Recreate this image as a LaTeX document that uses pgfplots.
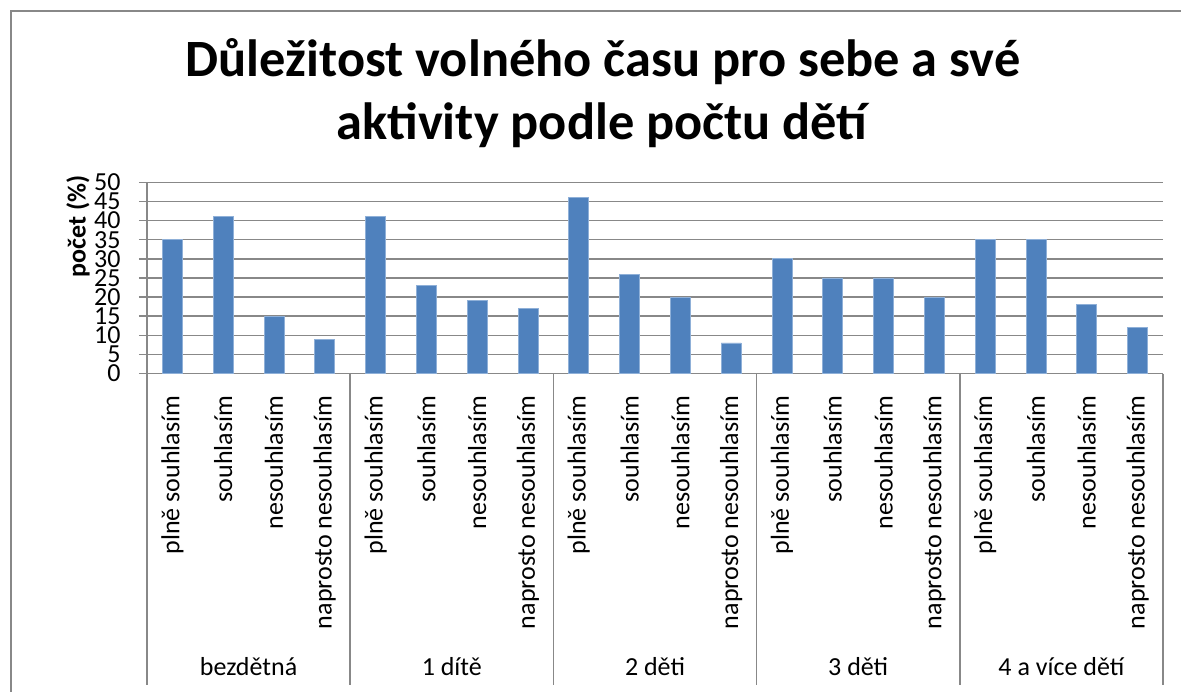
\documentclass[border=0pt]{standalone}
\usepackage{pgfplots}
\pgfplotsset{compat=1.18}
\usepackage{fontspec}
\setmainfont{Carlito}
\definecolor{barblue}{HTML}{4F81BD}
\definecolor{baredge}{HTML}{8FB0D8}
\definecolor{gridgray}{HTML}{888888}
\newcommand{\lblfont}{\fontsize{13}{15}\selectfont}
\begin{document}
\begin{tikzpicture}
\useasboundingbox (0pt,0pt) rectangle (590.5pt,345.5pt);
\draw[gridgray, line width=1pt] (5.5pt,-2pt) -- (5.5pt,340pt) -- (592pt,340pt);
\node[anchor=base, font=\fontsize{26.2}{31}\selectfont\bfseries] at (301.5pt,307pt) {Důležitost volného času pro sebe a své};
\node[anchor=base, font=\fontsize{26.2}{31}\selectfont\bfseries] at (301pt,275.5pt) {aktivity podle počtu dětí};
\begin{axis}[
  at={(73.5pt,158.75pt)}, anchor=south west,
  scale only axis, width=508pt, height=95.6pt,
  ybar, bar width=10pt,
  xmin=-0.5, xmax=19.5, ymin=0, ymax=50,
  enlarge x limits=false, enlarge y limits=false,
  clip=false,
  axis lines*=left,
  axis line style={gridgray, line width=0.75pt},
  ymajorgrids, grid style={gridgray, line width=0.75pt},
  ytick={0,5,...,50},
  ytick style={gridgray, line width=0.75pt},
  tick align=outside, major tick length=4pt,
  xtick={0,...,19},
  xtick style={draw=none},
  xticklabels={plně souhlasím, souhlasím, nesouhlasím, naprosto nesouhlasím,
               plně souhlasím, souhlasím, nesouhlasím, naprosto nesouhlasím,
               plně souhlasím, souhlasím, nesouhlasím, naprosto nesouhlasím,
               plně souhlasím, souhlasím, nesouhlasím, naprosto nesouhlasím,
               plně souhlasím, souhlasím, nesouhlasím, naprosto nesouhlasím},
  xticklabel style={yshift=-7pt, rotate=90, anchor=east, inner sep=0pt, font=\lblfont},
  yticklabel style={xshift=-9pt, anchor=east, inner sep=0pt, font=\lblfont},
  /pgf/number format/assume math mode=true,
]
\addplot[fill=barblue, draw=baredge, line width=0.4pt] coordinates {
 (0,35) (1,41) (2,15) (3,9)
 (4,41) (5,23) (6,19) (7,17)
 (8,46) (9,26) (10,20) (11,8)
 (12,30) (13,25) (14,25) (15,20)
 (16,35) (17,35) (18,18) (19,12)
};
\draw[gridgray, line width=0.75pt] (axis cs:-0.5,0) -- ++(0pt,-155.5pt);
\draw[gridgray, line width=0.75pt] (axis cs:3.5,0) -- ++(0pt,-155.5pt);
\draw[gridgray, line width=0.75pt] (axis cs:7.5,0) -- ++(0pt,-155.5pt);
\draw[gridgray, line width=0.75pt] (axis cs:11.5,0) -- ++(0pt,-155.5pt);
\draw[gridgray, line width=0.75pt] (axis cs:15.5,0) -- ++(0pt,-155.5pt);
\draw[gridgray, line width=0.75pt] (axis cs:19.5,0) -- ++(0pt,-155.5pt);
\node[anchor=base, font=\lblfont] at (axis cs:1.5,0) [yshift=-151pt] {bezdětná};
\node[anchor=base, font=\lblfont] at (axis cs:5.5,0) [yshift=-151pt] {1 dítě};
\node[anchor=base, font=\lblfont] at (axis cs:9.5,0) [yshift=-151pt] {2 děti};
\node[anchor=base, font=\lblfont] at (axis cs:13.5,0) [yshift=-151pt] {3 děti};
\node[anchor=base, font=\lblfont] at (axis cs:17.5,0) [yshift=-151pt] {4 a více dětí};
\node[xshift=-28.5pt, yshift=3.5pt, rotate=90, anchor=south east, inner sep=0pt, font=\lblfont\bfseries] at (rel axis cs:0,1) {počet (\%)};
\end{axis}
\end{tikzpicture}
\end{document}
